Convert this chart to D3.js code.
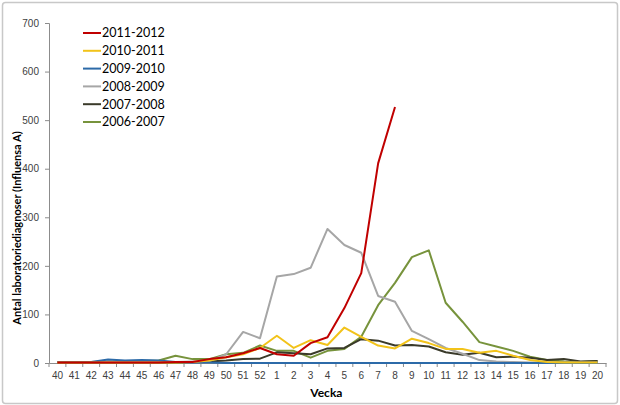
<!DOCTYPE html>
<html>
<head>
<meta charset="utf-8">
<script src="https://cdn.jsdelivr.net/npm/d3@7"></script>
<style>
  body { margin: 0; background: #fff; }
  svg { display: block; font-family: Lato, "Open Sans", sans-serif; }
</style>
</head>
<body>
<div id="chart"></div>
<script>
const weeks = ['40','41','42','43','44','45','46','47','48','49','50','51','52',
  '1','2','3','4','5','6','7','8','9','10','11','12','13','14','15','16','17','18','19','20'];

const s2011 = [1,1,1,1,1,1,1,2,2,8,12,20,31,18,15,41,53,113,185,411,527];
const s2010 = [1,1,1,1,1,1,1,1,2,5,12,18,31,56,31,47,37,73,54,36,30,50,41,29,29,21,25,15,6,2,1,1,1];
const s2009 = [2,2,2,7,5,6,5,2,1,1,0,0,0,0,0,0,0,0,0,0,0,0,0,0,0,0,0,0,0,0,0,0,0];
const s2008 = [2,2,2,2,2,2,2,2,3,4,18,64,51,178,183,196,276,243,227,138,126,66,49,31,19,6,3,2,1,1,1,1,1];
const s2007 = [1,1,1,1,1,1,1,1,2,3,5,8,9,22,20,18,30,31,49,46,36,37,34,22,17,21,12,13,11,6,8,3,4];
const s2006 = [2,2,2,3,3,4,5,15,8,8,18,21,36,25,25,11,25,29,54,119,165,218,232,124,85,43,34,25,13,6,3,2,4];

const seriesNames = ['2011-2012','2010-2011','2009-2010','2008-2009','2007-2008','2006-2007'];
const seriesValues = [s2011, s2010, s2009, s2008, s2007, s2006];
const seriesColors = ['#C00000','#F2C31A','#2C6AA8','#A6A6A6','#3A3A2A','#77933C'];
const yTicks = [0,100,200,300,400,500,600,700];

const W = 620, H = 405;
const m = { left: 49, right: 14, top: 23, bottom: 42 };

const svg = d3.select('#chart').append('svg')
  .attr('width', W).attr('height', H);

svg.append('rect')
  .attr('x', 2.5).attr('y', 2.5)
  .attr('width', W - 5).attr('height', H - 4)
  .attr('rx', 3)
  .attr('fill', '#fff').attr('stroke', '#c8c8c8').attr('stroke-width', 1.5);

const x = d3.scaleBand().domain(weeks).range([m.left, W - m.right]);
const y = d3.scaleLinear().domain([0, 700]).range([H - m.bottom, m.top]);

// y axis
const yAxis = svg.append('g')
  .attr('transform', `translate(${m.left},0)`)
  .call(d3.axisLeft(y).tickValues(yTicks).tickSize(4).tickPadding(6));
yAxis.select('.domain').attr('stroke', '#8c8c8c');
yAxis.selectAll('.tick line').attr('stroke', '#8c8c8c');
yAxis.selectAll('text').attr('fill', '#404040').style('font-size', '10px');

// x axis, ticks on band boundaries
const xAxis = svg.append('g')
  .attr('transform', `translate(0,${y(0)})`)
  .call(d3.axisBottom(x).tickSize(0).tickPadding(9));
xAxis.select('.domain').attr('stroke', '#8c8c8c');
xAxis.selectAll('text').attr('fill', '#404040').style('font-size', '10px');
xAxis.selectAll('.bound')
  .data(weeks.concat(['end']))
  .enter().append('line')
  .attr('x1', (d, i) => m.left + i * x.step())
  .attr('x2', (d, i) => m.left + i * x.step())
  .attr('y1', 0).attr('y2', 4)
  .attr('stroke', '#8c8c8c');

// lines, drawn oldest first so the newest lies on top
const line = d3.line()
  .x((d, i) => x(weeks[i]) + x.bandwidth() / 2)
  .y(d => y(d));

const order = d3.range(seriesNames.length).reverse();
svg.append('g').selectAll('path')
  .data(order)
  .enter().append('path')
  .attr('d', i => line(seriesValues[i]))
  .attr('fill', 'none')
  .attr('stroke', i => seriesColors[i])
  .attr('stroke-width', 2)
  .attr('stroke-linejoin', 'round');

// legend
const legend = svg.append('g').attr('transform', 'translate(83,33)');
const items = legend.selectAll('g')
  .data(seriesNames)
  .enter().append('g')
  .attr('transform', (d, i) => `translate(0,${i * 17.8})`);
items.append('line')
  .attr('x1', 0).attr('x2', 18)
  .attr('stroke', (d, i) => seriesColors[i])
  .attr('stroke-width', 2);
items.append('text')
  .attr('x', 19).attr('dy', '0.35em')
  .style('font-size', '12.5px')
  .attr('fill', '#000')
  .text(d => d);

// axis titles
svg.append('text')
  .attr('x', x('5') + x.bandwidth() / 2 - 18).attr('y', 397)
  .attr('text-anchor', 'middle')
  .style('font-size', '12px').style('font-weight', 'bold')
  .text('Vecka');

svg.append('text')
  .attr('transform', 'translate(21,228) rotate(-90)')
  .attr('text-anchor', 'middle')
  .style('font-size', '11px').style('font-weight', 'bold')
  .text('Antal laboratoriediagnoser (Influensa A)');
</script>
</body>
</html>
